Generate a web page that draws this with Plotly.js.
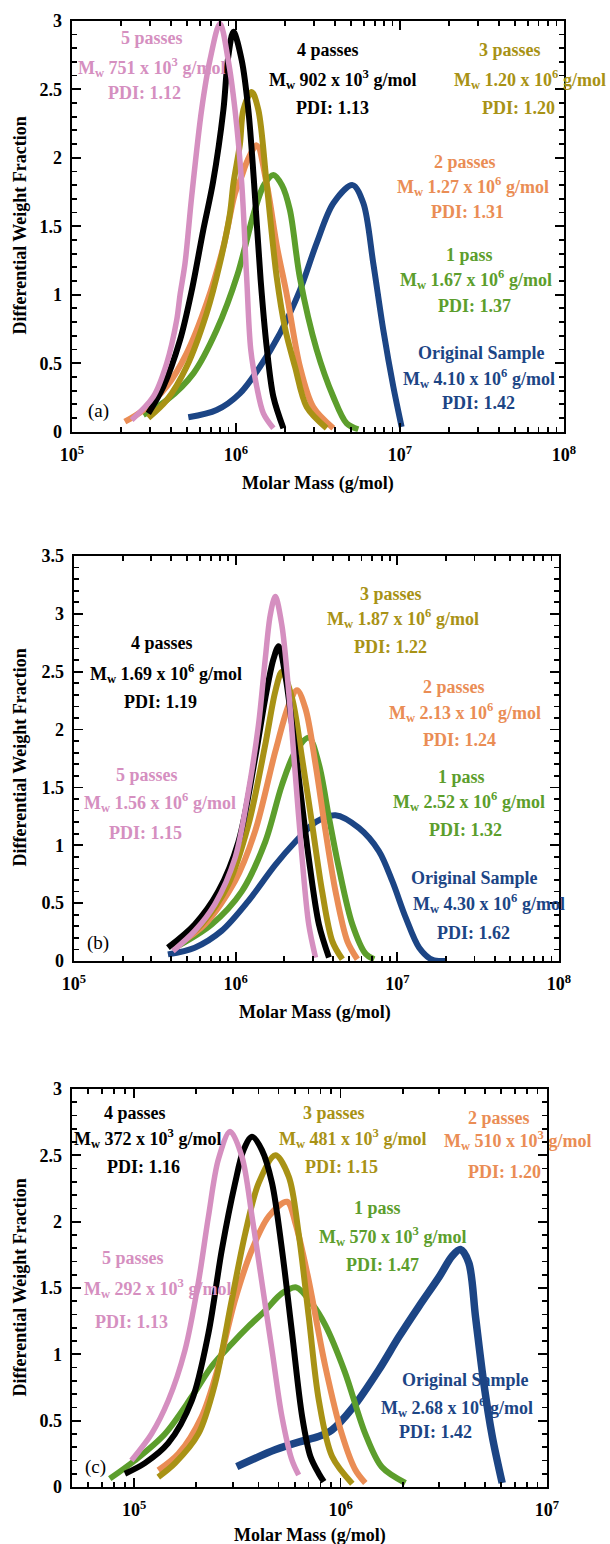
<!DOCTYPE html>
<html>
<head>
<meta charset="utf-8">
<script src="https://cdn.plot.ly/plotly-3.0.1.min.js"></script>
<style>html,body{margin:0;padding:0;background:#fff;}#chart{width:610px;height:1544px;}</style>
</head>
<body>
<div id="chart"></div>
<script>
// ---------------- DATA ----------------
const seriesNames = ['Original Sample', '1 pass', '2 passes', '3 passes', '4 passes', '5 passes'];

// Panel (a)
const massA_orig = [5.12e5, 7.62e5, 1.057e6, 1.40e6, 1.854e6, 2.455e6, 3.10e6, 3.92e6, 5.14e6, 5.98e6, 6.87e6, 7.91e6, 9.10e6, 1.023e7];
const wfA_orig   = [0.105, 0.158, 0.28, 0.474, 0.718, 1.034, 1.375, 1.667, 1.80, 1.667, 1.23, 0.742, 0.33, 0.036];
const massA_p1 = [2.72e5, 3.78e5, 5.5e5, 7.62e5, 1.023e6, 1.288e6, 1.479e6, 1.69e6, 1.905e6, 2.13e6, 2.455e6, 3.10e6, 3.92e6, 4.73e6, 5.57e6];
const wfA_p1   = [0.122, 0.23, 0.426, 0.742, 1.15, 1.60, 1.80, 1.874, 1.80, 1.62, 1.12, 0.60, 0.255, 0.06, 0.017];
const massA_p2 = [2.10e5, 2.72e5, 3.78e5, 5.0e5, 6.62e5, 8.38e5, 9.86e5, 1.072e6, 1.175e6, 1.337e6, 1.538e6, 1.778e6, 2.04e6, 2.455e6, 2.96e6, 3.92e6];
const wfA_p2   = [0.073, 0.158, 0.33, 0.572, 0.937, 1.35, 1.74, 1.85, 1.98, 2.09, 1.81, 1.35, 1.0, 0.474, 0.18, 0.025];
const massA_p3 = [2.92e5, 3.78e5, 5.0e5, 6.62e5, 7.98e5, 9.18e5, 9.64e5, 1.057e6, 1.109e6, 1.247e6, 1.368e6, 1.538e6, 1.77e6, 1.995e6, 2.29e6, 2.70e6, 3.57e6];
const wfA_p3   = [0.10, 0.23, 0.474, 0.864, 1.23, 1.59, 1.81, 2.10, 2.35, 2.48, 2.35, 1.81, 1.13, 0.75, 0.474, 0.18, 0.025];
const massA_p4 = [2.92e5, 3.61e5, 4.56e5, 5.37e5, 6.31e5, 7.24e5, 8.38e5, 8.91e5, 9.64e5, 1.084e6, 1.189e6, 1.288e6, 1.413e6, 1.538e6, 1.69e6, 1.945e6];
const wfA_p4   = [0.134, 0.33, 0.67, 1.03, 1.47, 1.82, 2.35, 2.71, 2.92, 2.71, 2.35, 1.82, 1.11, 0.62, 0.255, 0.025];
const massA_p5 = [2.31e5, 3.13e5, 3.78e5, 4.35e5, 4.56e5, 4.89e5, 5.37e5, 6.17e5, 6.93e5, 7.98e5, 8.97e5, 9.86e5, 1.084e6, 1.161e6, 1.23e6, 1.337e6, 1.469e6, 1.69e6];
const wfA_p5   = [0.085, 0.255, 0.50, 0.815, 1.0, 1.23, 1.72, 2.35, 2.71, 2.98, 2.71, 2.35, 1.81, 1.13, 0.60, 0.33, 0.134, 0.025];

// Panel (b)
const massB_orig = [3.81e5, 5.58e5, 8.18e5, 1.20e6, 1.758e6, 2.339e6, 3.119e6, 4.14e6, 5.78e6, 7.69e6, 9.31e6, 1.127e7, 1.365e7, 1.648e7, 1.995e7];
const wfB_orig   = [0.057, 0.115, 0.26, 0.52, 0.83, 1.03, 1.20, 1.26, 1.15, 0.95, 0.69, 0.375, 0.115, 0.01, 0.0];
const massB_p1 = [4.40e5, 7.10e5, 1.089e6, 1.524e6, 1.932e6, 2.339e6, 2.831e6, 3.273e6, 3.776e6, 4.355e6, 5.272e6, 6.383e6, 7.194e6];
const wfB_p1   = [0.13, 0.316, 0.6, 1.03, 1.52, 1.81, 1.93, 1.70, 1.24, 0.80, 0.316, 0.06, 0.015];
const massB_p2 = [4.40e5, 6.44e5, 9.91e5, 1.318e6, 1.758e6, 2.128e6, 2.399e6, 2.704e6, 3.119e6, 3.597e6, 4.150e6, 4.909e6, 5.662e6];
const wfB_p2   = [0.144, 0.316, 0.69, 1.12, 1.81, 2.21, 2.34, 2.18, 1.70, 1.12, 0.6, 0.17, 0.015];
const massB_p3 = [4.17e5, 6.14e5, 8.99e5, 1.20e6, 1.524e6, 1.758e6, 1.932e6, 2.234e6, 2.576e6, 2.972e6, 3.428e6, 3.963e6, 4.571e6];
const wfB_p3   = [0.12, 0.316, 0.66, 1.18, 1.87, 2.33, 2.5, 2.27, 1.75, 1.18, 0.6, 0.17, 0.015];
const massB_p4 = [3.81e5, 5.58e5, 7.80e5, 1.04e6, 1.318e6, 1.524e6, 1.714e6, 1.845e6, 2.028e6, 2.234e6, 2.512e6, 2.831e6, 3.273e6, 3.776e6];
const wfB_p4   = [0.115, 0.316, 0.6, 1.03, 1.75, 2.27, 2.61, 2.72, 2.47, 2.04, 1.47, 0.89, 0.316, 0.03];
const massB_p5 = [4.09e5, 5.58e5, 7.43e5, 9.91e5, 1.20e6, 1.384e6, 1.524e6, 1.637e6, 1.758e6, 1.932e6, 2.128e6, 2.339e6, 2.576e6, 2.831e6, 3.119e6];
const wfB_p5   = [0.086, 0.26, 0.49, 0.89, 1.47, 2.04, 2.61, 2.99, 3.15, 2.90, 2.33, 1.61, 0.89, 0.316, 0.03];

// Panel (c)
const massC_orig = [3.141e5, 4.819e5, 6.31e5, 7.816e5, 9.078e5, 1.148e6, 1.528e6, 1.914e6, 2.393e6, 2.992e6, 3.467e6, 3.811e6, 4.178e6, 4.508e6, 4.943e6, 5.433e6, 6.067e6];
const wfC_orig   = [0.153, 0.28, 0.34, 0.38, 0.43, 0.60, 0.88, 1.13, 1.36, 1.58, 1.74, 1.79, 1.69, 1.28, 0.78, 0.38, 0.03];
const massC_p1 = [7.62e4, 1.007e5, 1.409e5, 1.901e5, 2.377e5, 2.972e5, 3.581e5, 4.315e5, 5.2e5, 6.095e5, 7.278e5, 8.433e5, 1.047e6, 1.318e6, 1.585e6, 2.061e6];
const wfC_p1   = [0.063, 0.2, 0.40, 0.68, 0.91, 1.08, 1.21, 1.33, 1.46, 1.505, 1.38, 1.22, 0.87, 0.40, 0.15, 0.03];
const massC_p2 = [1.309e5, 1.637e5, 2.123e5, 2.559e5, 3.083e5, 3.724e5, 4.487e5, 5.508e5, 6.039e5, 6.918e5, 8.433e5, 1.014e6, 1.178e6, 1.318e6];
const wfC_p2   = [0.126, 0.25, 0.53, 0.91, 1.41, 1.79, 2.04, 2.15, 1.99, 1.60, 0.91, 0.40, 0.13, 0.03];
const massC_p3 = [1.309e5, 1.578e5, 2.046e5, 2.466e5, 2.972e5, 3.451e5, 4.009e5, 4.831e5, 5.61e5, 6.266e5, 7.015e5, 7.852e5, 9.10e5, 1.14e6];
const wfC_p3   = [0.075, 0.18, 0.40, 0.78, 1.41, 1.91, 2.29, 2.50, 2.34, 1.91, 1.28, 0.65, 0.23, 0.025];
const massC_p4 = [9.02e4, 1.127e5, 1.462e5, 1.901e5, 2.291e5, 2.661e5, 3.083e5, 3.388e5, 3.724e5, 4.159e5, 4.656e5, 5.2e5, 5.821e5, 6.516e5, 7.145e5, 7.852e5, 8.299e5];
const wfC_p4   = [0.1, 0.18, 0.33, 0.65, 1.16, 1.79, 2.29, 2.54, 2.64, 2.54, 2.29, 1.79, 1.16, 0.53, 0.23, 0.1, 0.04];
const massC_p5 = [9.7e4, 1.213e5, 1.462e5, 1.762e5, 2.046e5, 2.291e5, 2.559e5, 2.917e5, 3.327e5, 3.724e5, 4.159e5, 4.656e5, 5.2e5, 5.821e5, 6.266e5];
const wfC_p5   = [0.2, 0.40, 0.65, 1.03, 1.54, 2.04, 2.47, 2.68, 2.49, 2.04, 1.54, 1.03, 0.53, 0.2, 0.09];

// Labels
const labelsA = [
  ['Original Sample', 'M<sub>w</sub> 4.10 x 10<sup>6</sup> g/mol', 'PDI: 1.42'],
  ['1 pass', 'M<sub>w</sub> 1.67 x 10<sup>6</sup> g/mol', 'PDI: 1.37'],
  ['2 passes', 'M<sub>w</sub> 1.27 x 10<sup>6</sup> g/mol', 'PDI: 1.31'],
  ['3 passes', 'M<sub>w</sub> 1.20 x 10<sup>6</sup> g/mol', 'PDI: 1.20'],
  ['4 passes', 'M<sub>w</sub> 902 x 10<sup>3</sup> g/mol', 'PDI: 1.13'],
  ['5 passes', 'M<sub>w</sub> 751 x 10<sup>3</sup> g/mol', 'PDI: 1.12']
];
const labelsB = [
  ['Original Sample', 'M<sub>w</sub> 4.30 x 10<sup>6</sup> g/mol', 'PDI: 1.62'],
  ['1 pass', 'M<sub>w</sub> 2.52 x 10<sup>6</sup> g/mol', 'PDI: 1.32'],
  ['2 passes', 'M<sub>w</sub> 2.13 x 10<sup>6</sup> g/mol', 'PDI: 1.24'],
  ['3 passes', 'M<sub>w</sub> 1.87 x 10<sup>6</sup> g/mol', 'PDI: 1.22'],
  ['4 passes', 'M<sub>w</sub> 1.69 x 10<sup>6</sup> g/mol', 'PDI: 1.19'],
  ['5 passes', 'M<sub>w</sub> 1.56 x 10<sup>6</sup> g/mol', 'PDI: 1.15']
];
const labelsC = [
  ['Original Sample', 'M<sub>w</sub> 2.68 x 10<sup>6</sup> g/mol', 'PDI: 1.42'],
  ['1 pass', 'M<sub>w</sub> 570 x 10<sup>3</sup> g/mol', 'PDI: 1.47'],
  ['2 passes', 'M<sub>w</sub> 510 x 10<sup>3</sup> g/mol', 'PDI: 1.20'],
  ['3 passes', 'M<sub>w</sub> 481 x 10<sup>3</sup> g/mol', 'PDI: 1.15'],
  ['4 passes', 'M<sub>w</sub> 372 x 10<sup>3</sup> g/mol', 'PDI: 1.16'],
  ['5 passes', 'M<sub>w</sub> 292 x 10<sup>3</sup> g/mol', 'PDI: 1.13']
];
const panelTags = ['(a)', '(b)', '(c)'];
const xTitle = 'Molar Mass (g/mol)';
const yTitle = 'Differential Weight Fraction';
const decadeExponents = [5, 6, 7, 8];
const yTickValsAB = [[0, 0.5, 1, 1.5, 2, 2.5, 3], [0, 0.5, 1, 1.5, 2, 2.5, 3, 3.5], [0, 0.5, 1, 1.5, 2, 2.5, 3]];

// ---------------- STYLE / LAYOUT ----------------
const W = 610, H = 1544;
const FONT = 'Liberation Serif, Times New Roman, serif';
const FS = 18;
const colors = ['#1c4585', '#5c9e2c', '#ea8d55', '#a89215', '#000000', '#d58fc0'];
const lineW = [[6, 6, 6, 6, 6, 5.5], [6, 6, 6, 6, 6, 5.5], [7.5, 6, 6, 6, 6, 5.5]];
const PX = x => x / W;
const PY = y => 1 - y / H;
const B = t => '<b>' + t + '</b>';

const panelData = [
  [[massA_orig, wfA_orig], [massA_p1, wfA_p1], [massA_p2, wfA_p2], [massA_p3, wfA_p3], [massA_p4, wfA_p4], [massA_p5, wfA_p5]],
  [[massB_orig, wfB_orig], [massB_p1, wfB_p1], [massB_p2, wfB_p2], [massB_p3, wfB_p3], [massB_p4, wfB_p4], [massB_p5, wfB_p5]],
  [[massC_orig, wfC_orig], [massC_p1, wfC_p1], [massC_p2, wfC_p2], [massC_p3, wfC_p3], [massC_p4, wfC_p4], [massC_p5, wfC_p5]]
];
const panelLabels = [labelsA, labelsB, labelsC];

const geo = [
  {xd: [72, 564], yd: [20.7, 431.7], xr: [5, 8], yr: [0, 3],
   lab: [[[481,353],[479,378],[478,403]], [[469,255],[476,280],[474,306]], [[465,162],[473,187],[467,212]],
         [[510,50],[530,80],[518,108]], [[328,50],[342,80],[332,108]], [[152,38],[151,67],[144,93]]],
   tag: [98, 411], xt: [318, 483], yt: [19.5, 226]},
  {xd: [74, 559], yd: [556, 961], xr: [5, 8], yr: [0, 3.5],
   lab: [[[474,878],[489,903],[473,933]], [[461,777],[469,802],[465,830]], [[454,687],[465,712],[460,740]],
         [[391,594],[403,618],[390,647]], [[162,643],[166,673],[160,702]], [[147,775],[160,803],[145,833]]],
   tag: [98, 943], xt: [315, 1012], yt: [19.5, 758]},
  {xd: [72, 547], yd: [1089, 1487], xr: [Math.log10(5e4), 7], yr: [0, 3],
   lab: [[[465,1380],[457,1407],[435,1432]], [[377,1208],[392,1236],[382,1265]], [[499,1118],[517,1140],[504,1172]],
         [[334,1113],[352,1138],[341,1167]], [[135,1113],[147,1138],[143,1167]], [[133,1258],[157,1288],[131,1322]]],
   tag: [95, 1467], xt: [310, 1535], yt: [19.5, 1288]}
];

const traces = [];
const annotations = [];
const layout = {
  width: W, height: H,
  margin: {l: 0, r: 0, t: 0, b: 0},
  showlegend: false,
  paper_bgcolor: '#ffffff',
  plot_bgcolor: 'rgba(0,0,0,0)',
  annotations: annotations
};
const tickFont = {family: FONT, size: FS, color: '#000'};

geo.forEach((g, p) => {
  const n = p + 1;
  const sfx = p === 0 ? '' : String(n);
  const xa = 'x' + sfx, ya = 'y' + sfx;
  const exps = decadeExponents.filter(e => e >= g.xr[0] - 1e-9 && e <= g.xr[1] + 1e-9);
  // label axes
  layout['xaxis' + sfx] = {
    type: 'log', range: g.xr, domain: [PX(g.xd[0]), PX(g.xd[1])], anchor: ya,
    showline: true, linecolor: '#000', linewidth: 1.8, mirror: 'allticks',
    ticks: 'inside', ticklen: 9, tickwidth: 1.8, tickcolor: '#000',
    tickmode: 'array', tickvals: exps.map(e => Math.pow(10, e)),
    ticktext: exps.map(e => B('10<sup>' + e + '</sup>')),
    ticklabelstandoff: 6,
    showgrid: false, zeroline: false,
    tickfont: tickFont
  };
  layout['yaxis' + sfx] = {
    range: g.yr, domain: [PY(g.yd[1]), PY(g.yd[0])], anchor: xa,
    showline: true, linecolor: '#000', linewidth: 1.8, mirror: 'allticks',
    ticks: 'inside', ticklen: 9, tickwidth: 1.8, tickcolor: '#000',
    tickmode: 'array', tickvals: yTickValsAB[p], ticktext: yTickValsAB[p].map(v => B(String(v)) + '\u00a0'),
    showgrid: false, zeroline: false,
    tickfont: tickFont
  };
  // tick-only axes on the same area (major + minor ticks, mirrored)
  const ox = 'x' + (n + 3), oy = 'y' + (n + 3);
  layout['xaxis' + (n + 3)] = {
    type: 'log', range: g.xr, domain: [PX(g.xd[0]), PX(g.xd[1])], anchor: oy,
    showline: true, linecolor: '#000', linewidth: 1.8, mirror: 'allticks',
    ticks: 'inside', ticklen: 9, tickwidth: 1.8, tickcolor: '#000', dtick: 1,
    showticklabels: false, showgrid: false, zeroline: false,
    minor: {ticks: 'inside', ticklen: 5, dtick: 'D1'}
  };
  layout['yaxis' + (n + 3)] = {
    range: g.yr, domain: [PY(g.yd[1]), PY(g.yd[0])], anchor: ox,
    showline: true, linecolor: '#000', linewidth: 1.8, mirror: 'allticks',
    ticks: 'inside', ticklen: 9, tickwidth: 1.8, tickcolor: '#000', dtick: 0.5,
    showticklabels: false, showgrid: false, zeroline: false,
    minor: {ticks: 'inside', ticklen: 5, dtick: 0.1}
  };

  // series 0-4 on the label axes, series 5 (top-most curve) on the tick axes so both subplots hold data
  panelData[p].forEach(([mx, wy], s) => {
    const onTop = s === 5;
    traces.push({
      type: 'scatter', mode: 'lines', name: seriesNames[s],
      x: mx, y: wy, xaxis: onTop ? ox : xa, yaxis: onTop ? oy : ya,
      line: {color: colors[s], width: lineW[p][s], shape: 'spline', smoothing: 0.9},
      hoverinfo: 'skip'
    });
  });

  panelLabels[p].forEach((lines, s) => {
    lines.forEach((t, li) => {
      const pos = g.lab[s][li];
      annotations.push({
        xref: 'paper', yref: 'paper', x: PX(pos[0]), y: PY(pos[1]),
        xanchor: 'center', yanchor: 'middle', showarrow: false,
        text: B(t), font: {family: FONT, size: FS, color: colors[s]}
      });
    });
  });
  annotations.push({
    xref: 'paper', yref: 'paper', x: PX(g.tag[0]), y: PY(g.tag[1]),
    xanchor: 'center', yanchor: 'middle', showarrow: false,
    text: panelTags[p], font: {family: FONT, size: FS + 1, color: '#000'}
  });
  annotations.push({
    xref: 'paper', yref: 'paper', x: PX(g.xt[0]), y: PY(g.xt[1]),
    xanchor: 'center', yanchor: 'middle', showarrow: false,
    text: B(xTitle), font: {family: FONT, size: FS, color: '#000'}
  });
  annotations.push({
    xref: 'paper', yref: 'paper', x: PX(g.yt[0]), y: PY(g.yt[1]),
    xanchor: 'center', yanchor: 'middle', showarrow: false, textangle: -90,
    text: B(yTitle), font: {family: FONT, size: FS, color: '#000'}
  });
});

Plotly.newPlot('chart', traces, layout, {staticPlot: true, displayModeBar: false});
</script>
</body>
</html>
